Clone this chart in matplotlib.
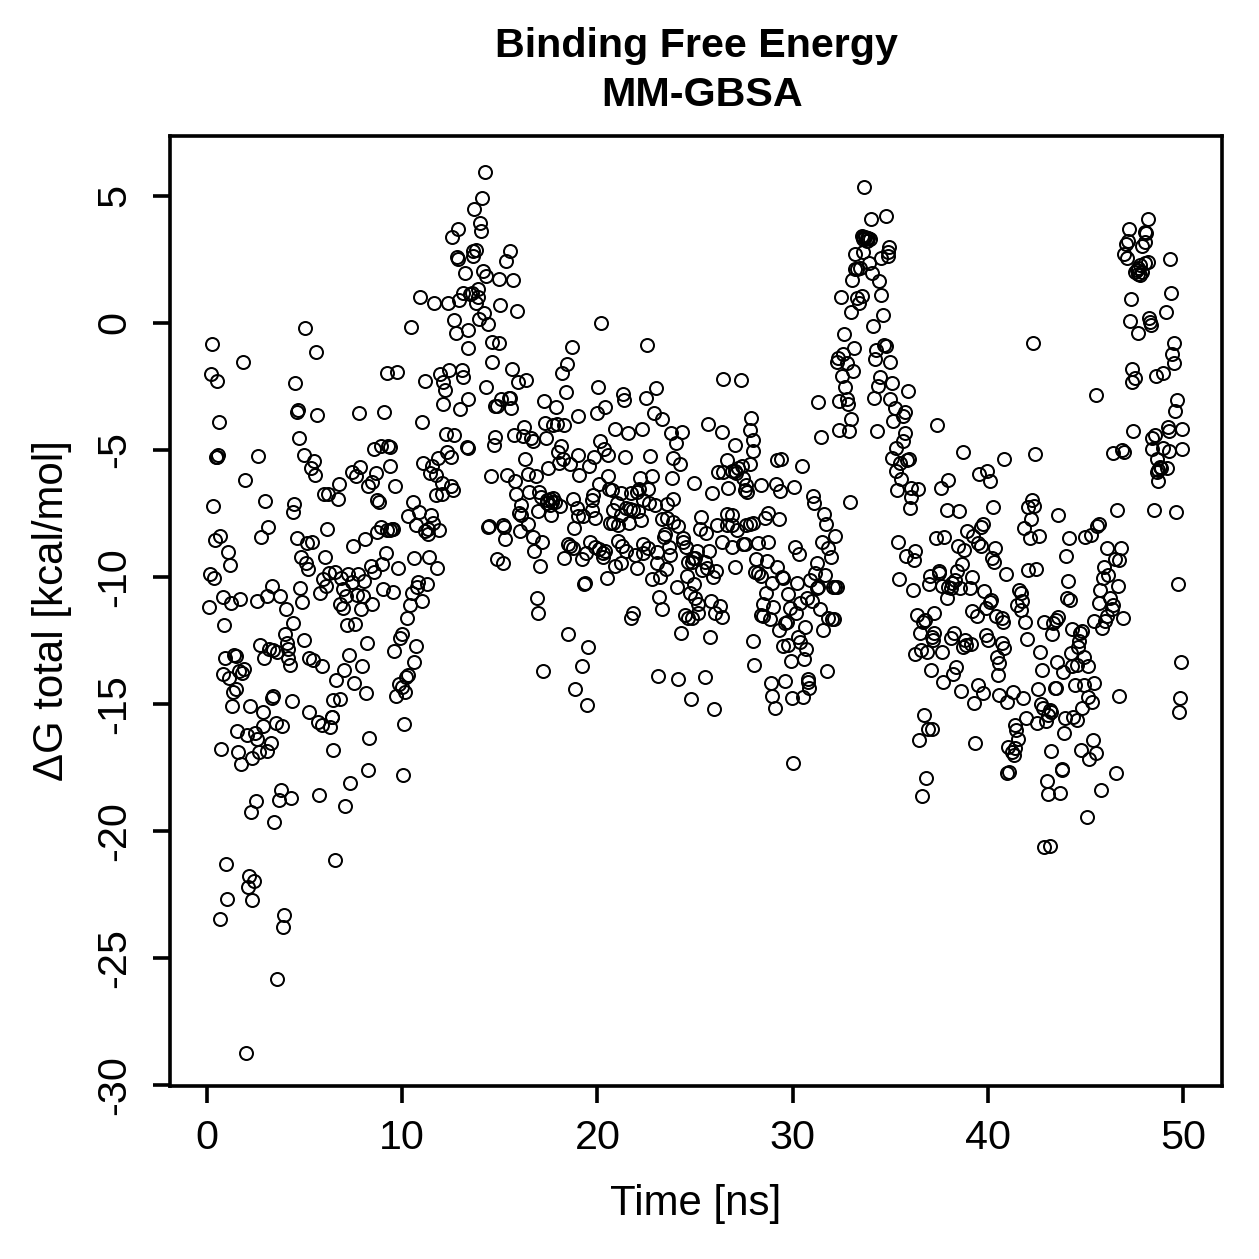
import numpy as np
import matplotlib
matplotlib.use('Agg')
import matplotlib.pyplot as plt

plt.rcParams['font.family'] = ['Liberation Sans', 'DejaVu Sans']

# MM-GBSA energies per frame, grouped by stretch of the trajectory
time_a = [0.24, 5.04, 10.43, 5.58, 1.84, 0.19, 0.5, 4.53, 9.24, 9.72,
          11.18, 11.94, 12.4, 13.05, 13.1, 12.1, 12.18, 12.74, 12.67, 13.39,
          13.39, 13.35, 12.09, 12.98, 4.68, 4.63, 5.64, 7.79, 9.08, 11.03,
          0.6, 4.73, 12.23, 12.64, 13.3, 13.38, 8.57, 8.9, 9.29, 9.37,
          0.51, 0.58, 0.44, 2.63, 4.94, 5.48, 5.34, 5.55, 7.41, 7.85,
          7.65, 8.64, 9.39, 8.47, 8.26, 9.63, 1.95, 6.75, 6.01, 6.2,
          6.69, 11.08, 11.83, 12.3, 12.5, 11.54, 11.42, 11.71, 12.02, 12.5,
          12.62, 12.02, 11.71, 0.29, 2.99, 4.47, 4.42, 8.73, 8.83, 10.54,
          10.31, 10.88, 11.49, 10.69, 11.59, 11.9, 11.17, 11.3, 11.34, 8.91,
          8.69, 9.2, 9.37, 9.48, 9.51, 3.14, 0.67, 0.38, 2.78, 6.13,
          4.59, 5.14, 5.4, 8.09, 7.48, 1.09, 1.18, 9.15, 10.62, 11.37,
          11.78, 4.83, 5.09, 5.17, 6.05, 8.4, 8.98, 8.54, 9.78, 0.14,
          0.34, 6.25, 6.56, 5.93, 6.88, 7.24, 7.75, 7.41, 8.04, 6.08,
          5.79, 6.95, 7.12, 7.7, 7.97, 6.83, 6.98, 7.87, 8.44, 4.78,
          4.88, 3.33, 3.06, 3.74, 2.58, 4.03, 0.84, 1.25, 1.71, 0.09,
          9.03, 9.55, 10.83, 11.25, 10.74, 10.48, 11.0, 10.38, 10.23]
dg_a = [-0.83, -0.18, -0.14, -1.15, -1.52, -2.01, -2.27, -2.38, -1.96, -1.92,
        -2.27, -2.01, -1.85, -1.85, -2.14, -2.31, -2.64, -0.38, 0.12, -0.28,
        -0.97, -2.99, -3.19, -3.4, -3.43, -3.52, -3.61, -3.54, -3.49, -3.88,
        -3.88, -4.53, -4.36, -4.42, -4.87, -4.93, -4.96, -4.84, -4.84, -4.88,
        -5.26, -5.2, -5.29, -5.25, -5.18, -5.43, -5.71, -5.98, -5.85, -5.66,
        -6.04, -5.89, -5.64, -6.27, -6.4, -6.43, -6.18, -6.33, -6.72, -6.73,
        -6.92, -5.5, -5.31, -5.08, -5.26, -5.63, -5.92, -5.97, -6.29, -6.42,
        -6.58, -6.73, -6.78, -7.2, -7.0, -7.11, -7.44, -6.97, -7.05, -7.03,
        -7.59, -7.46, -7.55, -7.95, -7.89, -8.15, -8.19, -8.12, -8.31, -8.04,
        -8.23, -8.15, -8.15, -8.11, -8.1, -8.03, -8.4, -8.56, -8.43, -8.11,
        -8.46, -8.67, -8.61, -8.5, -8.77, -9.03, -9.53, -9.04, -9.24, -9.2,
        -9.65, -9.23, -9.44, -9.67, -9.21, -9.58, -9.5, -9.82, -9.65, -9.9,
        -10.03, -9.83, -9.79, -10.07, -10.03, -9.88, -9.89, -10.21, -10.16, -10.34,
        -10.62, -10.49, -10.75, -10.72, -10.75, -11.08, -11.21, -11.26, -11.06, -10.45,
        -10.98, -10.35, -10.75, -10.73, -10.93, -11.25, -10.8, -11.02, -10.88, -11.19,
        -10.49, -10.58, -10.18, -10.29, -10.38, -10.62, -10.93, -11.1, -11.6]

time_b = [0.89, 4.39, 4.0, 4.99, 2.73, 4.08, 3.18, 3.4, 3.6, 4.17,
          2.94, 4.17, 4.24, 0.92, 1.38, 1.47, 0.79, 1.14, 1.61, 1.9,
          1.78, 1.35, 1.47, 1.28, 2.19, 2.85, 3.31, 3.4, 4.34, 5.24,
          5.45, 5.89, 7.29, 8.2, 7.94, 7.04, 6.63, 7.53, 8.13, 6.47,
          6.8, 7.16, 7.6, 5.24, 5.69, 5.87, 6.28, 6.39, 6.42, 2.89,
          3.53, 3.84, 1.54, 2.03, 2.46, 2.54, 3.25, 3.09, 2.68, 0.73,
          1.59, 2.32, 1.74, 6.44, 8.32, 10.09, 8.25, 10.04, 7.34, 5.74,
          7.09, 3.79, 3.67, 4.29, 2.49, 2.24, 3.43, 6.54, 0.99, 2.13,
          2.41, 2.08, 1.04, 2.29, 9.97, 9.89, 9.58, 10.72, 10.59, 10.28,
          10.19, 9.82, 9.97, 10.14, 9.67, 0.67, 3.94, 3.89, 3.59, 2.0]
dg_b = [-11.89, -11.82, -12.26, -12.49, -12.68, -12.59, -12.84, -12.87, -12.94, -12.84,
        -13.19, -13.2, -13.47, -13.19, -13.07, -13.11, -13.81, -13.96, -13.7, -13.63,
        -13.77, -14.52, -14.41, -15.09, -15.08, -15.32, -14.78, -14.69, -14.89, -13.18,
        -13.27, -13.5, -13.06, -12.61, -13.49, -13.66, -14.06, -14.16, -14.57, -14.84,
        -14.8, -11.88, -11.87, -15.31, -15.7, -15.83, -15.9, -15.52, -15.5, -15.88,
        -15.73, -15.87, -16.08, -16.21, -16.16, -16.39, -16.52, -16.84, -16.89, -16.76,
        -16.89, -17.11, -17.36, -16.81, -16.34, -15.8, -17.6, -17.81, -18.12, -18.6,
        -19.0, -18.4, -18.79, -18.7, -18.83, -19.24, -19.63, -21.14, -21.29, -21.79,
        -21.98, -22.19, -22.68, -22.7, -12.24, -12.39, -12.9, -12.7, -13.35, -13.87,
        -13.95, -14.2, -14.34, -14.51, -14.7, -23.46, -23.3, -23.8, -25.83, -28.74]

time_c = [14.24, 14.09, 13.68, 13.99, 14.04, 12.84, 12.54, 13.8, 13.61, 13.64,
          12.79, 12.87, 15.54, 15.32, 13.24, 14.14, 14.31, 14.94, 15.69, 13.9,
          13.13, 13.47, 13.87, 13.78, 12.93, 12.33, 11.63, 10.93, 13.56, 15.03,
          15.88, 14.19, 13.92, 14.4, 20.19, 22.53, 14.6, 14.98, 18.68, 18.43,
          18.17, 14.58, 15.64, 15.92, 16.34, 20.03, 21.33, 21.38, 23.0, 22.47,
          20.37, 19.98, 18.37, 17.28, 17.88, 18.99, 14.27, 14.69, 14.75, 15.08,
          15.47, 15.51, 15.59, 14.75, 14.87, 15.73, 16.2, 16.22, 16.6, 16.68,
          17.39, 17.33, 17.74, 17.91, 18.29, 20.88, 21.58, 22.27, 23.79, 24.35,
          24.03, 22.9, 23.3, 20.13, 20.34, 20.56, 18.12, 17.96, 18.99, 19.83,
          21.41, 22.69, 23.89, 16.29]
dg_c = [5.94, 4.91, 4.5, 3.92, 3.62, 3.71, 3.39, 2.86, 2.82, 2.64,
        2.59, 2.53, 2.82, 2.45, 1.98, 2.05, 1.84, 1.75, 1.71, 1.33,
        1.17, 1.13, 1.01, 0.77, 0.91, 0.8, 0.79, 1.02, 1.17, 0.71,
        0.49, 0.38, 0.17, -0.04, 0.01, -0.87, -0.75, -0.8, -0.93, -1.61,
        -1.97, -1.52, -1.81, -2.32, -2.23, -2.51, -2.81, -3.04, -2.57, -2.95,
        -3.31, -3.56, -2.7, -3.07, -3.31, -3.67, -2.51, -4.8, -4.5, -2.98,
        -2.94, -2.97, -3.35, -3.27, -3.27, -4.4, -4.44, -4.08, -4.54, -4.65,
        -4.51, -3.95, -4.02, -3.98, -4.02, -4.19, -4.33, -4.19, -4.32, -4.29,
        -4.74, -3.54, -3.78, -4.65, -4.97, -5.2, -4.84, -5.07, -5.2, -5.26,
        -5.26, -5.24, -5.33, -5.35]

time_d = [27.03, 27.96, 17.49, 18.05, 18.26, 18.6, 19.59, 19.07, 24.23, 26.62,
          27.82, 26.2, 26.45, 26.88, 27.05, 27.22, 27.39, 27.1, 27.48, 27.61,
          27.56, 27.68, 24.97, 25.87, 26.71, 14.53, 15.39, 15.78, 16.46, 16.85,
          15.83, 16.51, 17.03, 17.11, 16.09, 16.0, 16.09, 16.94, 17.6, 17.4,
          17.57, 17.74, 17.83, 17.57, 17.43, 17.66, 18.09, 18.77, 18.94, 19.02,
          19.28, 19.74, 19.88, 19.71, 19.79, 20.52, 20.07, 20.61, 20.73, 21.21,
          21.71, 22.01, 22.15, 22.61, 22.18, 22.78, 23.82, 22.35, 22.64, 22.95,
          21.0, 20.82, 21.45, 21.67, 21.84, 22.1, 21.21, 20.65, 20.78, 21.07,
          21.62, 22.24, 23.58, 23.89, 23.29, 23.58, 23.89, 24.15, 23.46, 23.41,
          24.4, 24.4, 24.52, 25.32, 26.14, 25.26, 25.56, 26.62, 26.88, 26.62,
          26.88, 27.17, 27.61, 27.82, 27.99, 26.37, 26.92, 27.48, 27.56, 28.24,
          25.73, 25.12, 25.0, 24.83, 27.05, 28.13, 14.46, 14.41, 15.18, 15.23,
          15.28, 16.03, 16.46, 16.72, 17.18, 16.77, 17.06, 14.84, 15.15, 18.82,
          18.51, 18.59, 18.73, 18.31, 19.2, 19.42, 19.62, 19.88, 20.1, 20.39,
          20.31, 20.31, 21.07, 21.28, 21.45, 22.35, 22.61, 22.32, 21.93, 23.07,
          23.07, 23.68, 23.72, 21.2, 20.9, 22.05, 23.5, 23.21, 22.81, 20.48,
          19.36, 19.31, 24.57, 24.06, 24.95, 24.66, 24.91, 25.51, 25.6, 25.34,
          26.1, 25.94, 24.74, 25.0, 25.17, 25.17, 25.82, 26.28, 26.03, 26.37,
          24.49, 24.66, 24.83, 23.17, 23.33, 21.84, 21.72, 16.89, 16.97, 24.27,
          25.77, 18.48, 19.54, 19.23, 17.23, 18.87, 19.48, 23.12, 24.11, 25.51,
          24.78, 25.97, 27.99, 28.04, 26.43, 27.36, 25.67, 26.38, 27.87, 27.82,
          27.97]
dg_d = [-4.8, -5.04, -5.7, -5.5, -5.37, -5.56, -5.63, -5.98, -5.56, -5.39,
        -5.55, -5.85, -5.85, -5.81, -5.81, -5.72, -5.63, -5.92, -6.11, -6.37,
        -6.57, -6.64, -6.29, -6.71, -6.51, -6.02, -5.98, -6.21, -5.96, -6.01,
        -6.75, -6.64, -6.64, -6.86, -7.17, -7.47, -7.56, -7.39, -7.56, -6.97,
        -6.94, -6.9, -7.03, -7.17, -7.1, -7.03, -7.19, -6.92, -7.3, -7.6,
        -7.6, -7.36, -7.69, -6.97, -6.77, -6.01, -6.35, -6.55, -6.57, -6.71,
        -6.71, -6.64, -6.55, -6.55, -6.09, -6.01, -6.09, -6.97, -7.1, -7.17,
        -7.1, -7.36, -7.3, -7.32, -7.36, -7.39, -7.56, -7.89, -7.89, -7.95,
        -7.89, -7.76, -7.14, -6.94, -7.72, -7.69, -7.85, -7.98, -8.31, -8.41,
        -8.48, -8.61, -8.81, -7.62, -7.95, -8.12, -8.28, -7.53, -7.56, -7.95,
        -7.95, -8.15, -7.95, -7.91, -7.89, -8.64, -8.81, -8.7, -8.7, -8.65,
        -8.99, -8.99, -9.26, -9.43, -9.62, -9.3, -8.0, -8.05, -7.95, -8.05,
        -8.52, -8.19, -7.93, -8.44, -8.64, -8.98, -9.57, -9.3, -9.44, -8.06,
        -8.71, -8.78, -8.87, -9.24, -9.29, -9.04, -8.62, -8.83, -8.91, -8.98,
        -9.07, -9.2, -8.57, -8.78, -8.98, -8.71, -8.87, -9.07, -9.13, -9.03,
        -9.46, -8.83, -9.13, -9.44, -9.56, -9.65, -9.7, -9.99, -10.09, -10.05,
        -10.25, -10.29, -9.96, -10.38, -10.29, -9.4, -9.26, -9.4, -9.66, -9.73,
        -9.77, -10.01, -10.64, -10.84, -11.06, -11.43, -10.95, -11.13, -11.43, -11.56,
        -11.5, -11.63, -11.6, -10.77, -11.27, -11.43, -11.63, -10.83, -11.43, -12.19,
        -12.35, -12.26, -12.76, -13.49, -13.69, -14.41, -15.03, -13.91, -14.02, -13.95,
        -14.82, -15.2, -12.52, -13.47, -2.2, -2.24, -3.98, -4.29, -3.74, -4.21,
        -4.6]

time_e = [28.38, 29.13, 29.35, 30.09, 29.18, 29.4, 30.47, 31.06, 31.11, 32.92,
          31.63, 31.71, 28.72, 28.6, 29.29, 28.76, 32.17, 31.52, 31.83, 31.98,
          30.12, 30.31, 31.23, 31.15, 31.66, 30.89, 28.67, 29.22, 28.07, 28.24,
          28.36, 28.93, 29.44, 29.52, 30.23, 29.78, 28.62, 28.5, 29.0, 29.87,
          30.38, 30.72, 30.98, 31.23, 31.32, 32.05, 32.17, 32.29, 31.4, 30.17,
          28.38, 28.5, 28.84, 31.83, 32.0, 32.14, 29.61, 29.73, 30.62, 29.3,
          31.56, 30.29, 30.38, 29.53, 29.78, 30.69, 29.9, 30.58, 31.76, 30.8,
          30.77, 30.86, 29.61, 28.88, 28.96, 29.08, 29.95, 30.52, 30.02]
dg_e = [-6.39, -6.34, -6.62, -6.44, -5.39, -5.37, -5.64, -6.81, -7.1, -7.06,
        -7.52, -7.91, -7.47, -7.67, -7.73, -8.63, -8.39, -8.62, -8.87, -9.23,
        -8.81, -9.09, -9.45, -9.83, -9.92, -10.12, -9.37, -9.59, -9.79, -9.83,
        -9.96, -10.25, -9.99, -10.05, -10.24, -10.68, -10.64, -11.07, -11.17, -11.23,
        -11.04, -10.84, -10.93, -10.45, -10.41, -10.38, -10.41, -10.41, -11.26, -11.43,
        -11.5, -11.53, -11.66, -11.63, -11.65, -11.67, -11.82, -11.79, -11.98, -12.09,
        -12.09, -12.35, -12.55, -12.72, -12.68, -12.83, -13.31, -13.23, -13.71, -14.01,
        -14.15, -14.36, -14.08, -14.19, -14.69, -15.15, -14.78, -14.74, -17.31]

time_f = [33.68, 34.02, 34.77, 33.54, 33.62, 33.71, 33.8, 33.88, 33.97, 33.62,
          33.83, 34.94, 34.87, 34.51, 34.87, 33.2, 33.62, 33.91, 33.2, 33.32,
          33.45, 34.07, 34.43, 33.06, 34.51, 32.46, 33.28, 33.54, 33.42, 33.01,
          34.61, 34.12, 32.62, 33.16, 34.69, 34.77, 34.27, 34.22, 35.0, 32.6,
          32.34, 32.26, 32.77, 33.11, 32.51, 32.67, 34.48, 34.36, 35.07, 35.91,
          31.32, 32.38, 32.77, 32.86, 34.17, 34.97, 35.23, 35.76, 35.64, 35.16,
          32.97, 32.39, 32.89, 34.3, 31.47, 37.38, 35.76, 35.67, 35.28, 35.11,
          35.88, 35.98, 35.5, 35.3, 35.57, 35.36, 36.08, 36.41, 36.07, 36.01]
dg_f = [5.37, 4.09, 4.23, 3.43, 3.4, 3.4, 3.36, 3.33, 3.31, 3.31,
        3.24, 2.98, 2.81, 2.55, 2.64, 2.73, 2.81, 2.35, 2.11, 2.14,
        2.18, 1.98, 1.65, 1.68, 1.09, 1.04, 1.0, 1.08, 0.8, 0.42,
        0.31, -0.12, -0.45, -1.0, -0.87, -0.89, -1.06, -1.4, -1.55, -1.23,
        -1.39, -1.55, -1.59, -1.88, -2.09, -2.52, -2.14, -2.47, -2.38, -2.68,
        -3.1, -3.07, -2.98, -3.2, -2.95, -2.99, -3.36, -3.52, -3.65, -3.85,
        -3.78, -4.21, -4.27, -4.24, -4.48, -4.02, -4.32, -4.65, -4.93, -5.3,
        -5.39, -5.37, -5.52, -5.81, -6.15, -6.58, -6.51, -6.55, -6.86, -7.3]

time_g = [38.71, 40.81, 42.42, 39.56, 39.96, 40.11, 37.98, 37.6, 37.93, 38.52,
          40.28, 42.28, 42.08, 42.37, 42.23, 43.61, 39.74, 39.64, 41.85, 42.14,
          42.64, 38.92, 39.26, 37.35, 37.76, 35.42, 38.46, 39.51, 39.63, 38.8,
          40.37, 40.2, 40.33, 36.27, 35.79, 36.22, 38.68, 38.41, 37.5, 37.5,
          37.04, 36.97, 35.47, 36.15, 39.17, 40.92, 42.04, 42.47, 37.64, 37.89,
          37.98, 38.15, 38.32, 38.12, 38.58, 39.09, 39.82, 40.11, 40.16, 39.89,
          39.21, 39.43, 40.42, 40.71, 40.79, 41.62, 41.7, 41.77, 41.48, 41.69,
          41.92, 44.12, 44.04, 44.21, 44.16, 43.99, 44.98, 45.27, 45.61, 45.69,
          46.6, 48.51, 49.65, 46.39, 46.86, 46.99, 47.46, 48.39, 48.56, 49.21,
          49.3, 49.96, 48.39, 48.98, 49.3, 49.96, 48.65, 48.73, 48.9, 49.16,
          48.73, 49.76, 46.12, 46.81, 46.52, 46.74, 45.95, 46.17, 45.92, 46.69,
          45.75, 46.26, 45.71, 46.43, 46.34, 46.91, 46.09, 46.0, 45.44, 45.85,
          43.61, 43.48, 43.32, 42.9, 43.3, 44.3, 44.81, 44.72, 44.67, 44.64,
          42.01, 42.66, 44.26, 44.94, 45.15, 43.53, 43.87, 42.76, 44.34, 44.55,
          44.46, 44.94, 45.42, 42.56, 43.44, 43.47, 45.15, 45.32, 46.72, 49.9,
          49.85, 49.82, 44.81, 42.71, 42.84, 43.19, 41.82, 41.27, 41.0, 40.59,
          39.31, 39.77, 39.51, 38.61, 37.72, 38.23, 38.37, 37.07, 40.5, 40.57,
          40.45, 40.84, 40.71, 39.91, 40.03, 38.11, 38.26, 38.83, 38.88, 39.14,
          38.74, 37.67, 37.24, 37.2, 37.12, 36.36, 36.7, 36.78, 37.26, 36.53,
          36.27, 36.58, 36.9, 42.3]
dg_g = [-5.08, -5.34, -5.14, -5.95, -5.83, -6.23, -6.19, -6.5, -7.36, -7.4,
        -7.25, -6.97, -7.26, -7.2, -7.73, -7.56, -7.91, -8.02, -8.07, -8.45,
        -8.37, -8.19, -8.39, -8.45, -8.41, -8.64, -8.79, -8.67, -8.8, -8.95,
        -8.85, -9.27, -9.4, -8.98, -9.16, -9.33, -9.5, -9.76, -9.78, -9.85,
        -9.95, -10.28, -10.08, -10.53, -10.0, -9.87, -9.74, -9.67, -10.34, -10.84,
        -10.38, -10.25, -10.12, -10.42, -10.45, -10.42, -10.55, -10.97, -10.91, -11.21,
        -11.33, -11.54, -11.52, -11.63, -11.76, -10.51, -10.64, -10.94, -11.1, -11.3,
        -11.77, -10.17, -10.81, -10.9, -8.48, -9.17, -8.43, -8.36, -8.0, -7.93,
        -7.35, -7.38, -7.44, -5.12, -5.0, -5.07, -4.27, -4.54, -4.41, -4.08,
        -4.24, -4.17, -4.96, -4.93, -5.05, -4.97, -5.37, -5.79, -5.72, -5.72,
        -6.22, -10.29, -8.85, -8.87, -9.3, -9.32, -9.6, -9.92, -10.05, -10.34,
        -10.51, -10.84, -11.04, -11.1, -11.27, -11.63, -11.54, -11.72, -11.72, -12.01,
        -11.59, -11.7, -11.82, -11.76, -12.25, -12.05, -12.11, -12.22, -12.51, -12.74,
        -12.45, -12.94, -12.98, -13.16, -13.49, -13.36, -13.75, -13.66, -13.49, -13.46,
        -14.25, -14.25, -14.16, -14.42, -14.38, -14.39, -14.71, -14.91, -14.69, -13.35,
        -14.78, -15.3, -15.15, -15.0, -15.15, -15.25, -14.77, -14.54, -14.91, -14.65,
        -14.97, -14.55, -14.25, -14.49, -14.12, -13.83, -13.53, -13.65, -13.86, -13.4,
        -13.16, -12.8, -12.61, -12.28, -12.48, -12.39, -12.19, -12.5, -12.68, -12.64,
        -12.74, -12.94, -12.19, -12.48, -12.35, -11.5, -11.76, -11.7, -11.43, -12.22,
        -13.05, -12.87, -12.97, -0.8]

time_h = [36.71, 36.94, 37.16, 36.46, 39.36, 36.82, 36.61, 41.39, 41.46, 41.56,
          41.05, 41.39, 41.22, 41.34, 40.97, 41.1, 41.96, 42.5, 42.96, 43.1,
          43.23, 43.95, 44.38, 44.55, 43.92, 45.37, 44.77, 45.52, 45.2, 43.26,
          43.78, 43.81, 43.02, 43.1, 43.72, 46.57, 45.82, 45.06, 42.88, 43.17]
dg_h = [-15.43, -15.98, -15.97, -16.42, -16.54, -17.93, -18.64, -15.82, -16.02, -16.39,
        -16.71, -16.75, -16.88, -17.0, -17.7, -17.68, -15.56, -15.76, -15.66, -15.43,
        -15.3, -15.56, -15.53, -15.63, -16.15, -16.4, -16.81, -16.92, -17.17, -16.86,
        -17.6, -17.57, -18.02, -18.56, -18.5, -17.7, -18.39, -19.46, -20.64, -20.59]

time_i = [48.21, 47.22, 48.05, 48.1, 47.2, 47.08, 48.05, 47.88, 46.98, 47.12,
          48.19, 48.06, 49.35, 47.8, 47.63, 47.54, 47.71, 47.8, 47.71, 47.88,
          47.32, 49.4, 49.11, 47.27, 48.28, 48.31, 48.36, 47.68, 49.56, 49.46,
          49.52, 47.37, 47.54, 47.41, 48.96, 48.6, 45.56, 49.71, 49.61, 48.82,
          48.65]
dg_i = [4.09, 3.7, 3.57, 3.53, 3.24, 3.1, 3.18, 3.04, 2.7, 2.55,
        2.39, 2.35, 2.51, 2.28, 2.09, 2.02, 1.93, 1.89, 2.15, 2.02,
        0.96, 1.17, 0.42, 0.07, 0.18, 0.05, -0.1, -0.38, -0.77, -1.22,
        -1.59, -1.81, -2.18, -2.34, -1.98, -2.07, -2.85, -3.03, -3.46, -5.66,
        -5.88]

x_ticks = [0, 10, 20, 30, 40, 50]
y_ticks = [5, 0, -5, -10, -15, -20, -25, -30]

time_ns = np.concatenate([time_a, time_b, time_c, time_d, time_e, time_f, time_g, time_h, time_i])
dg_total = np.concatenate([dg_a, dg_b, dg_c, dg_d, dg_e, dg_f, dg_g, dg_h, dg_i])

fig = plt.figure(figsize=(1259 / 180, 1259 / 180), dpi=180)
ax = fig.add_axes([170 / 1259, 1 - 1086 / 1259, 1052 / 1259, 950 / 1259])

ax.plot(time_ns, dg_total, linestyle='none', marker='o', markersize=5.2,
        markerfacecolor='none', markeredgecolor='black', markeredgewidth=0.8)

ax.set_xlim(-1.9, 52.0)
ax.set_ylim(-30.04, 7.36)
ax.set_xticks(x_ticks)
ax.set_yticks(y_ticks)
# plain hyphens on the tick labels, not the wide unicode minus
ax.set_yticklabels([str(v) for v in y_ticks], rotation=90, va='center')
ax.tick_params(axis='both', direction='out', length=6.8, width=1.45, labelsize=16.5)
ax.tick_params(axis='x', pad=6.5)
ax.tick_params(axis='y', pad=7.8)
for spine in ax.spines.values():
    spine.set_linewidth(1.45)

# axis labels and the two-line title sit at fixed offsets from the box
fig.text(696 / 1259, 1 - 1204 / 1259, 'Time [ns]', ha='center', va='center', fontsize=16.8)
fig.text(52 / 1259, 1 - 611 / 1259, 'ΔG total [kcal/mol]', ha='center', va='center',
         rotation=90, fontsize=16.8)
fig.text(696.5 / 1259, 1 - 46 / 1259, 'Binding Free Energy', ha='center', va='center',
         fontsize=16.5, fontweight='bold')
fig.text(702 / 1259, 1 - 95 / 1259, 'MM-GBSA', ha='center', va='center',
         fontsize=16.5, fontweight='bold')

fig.savefig('out.png', dpi=180)
